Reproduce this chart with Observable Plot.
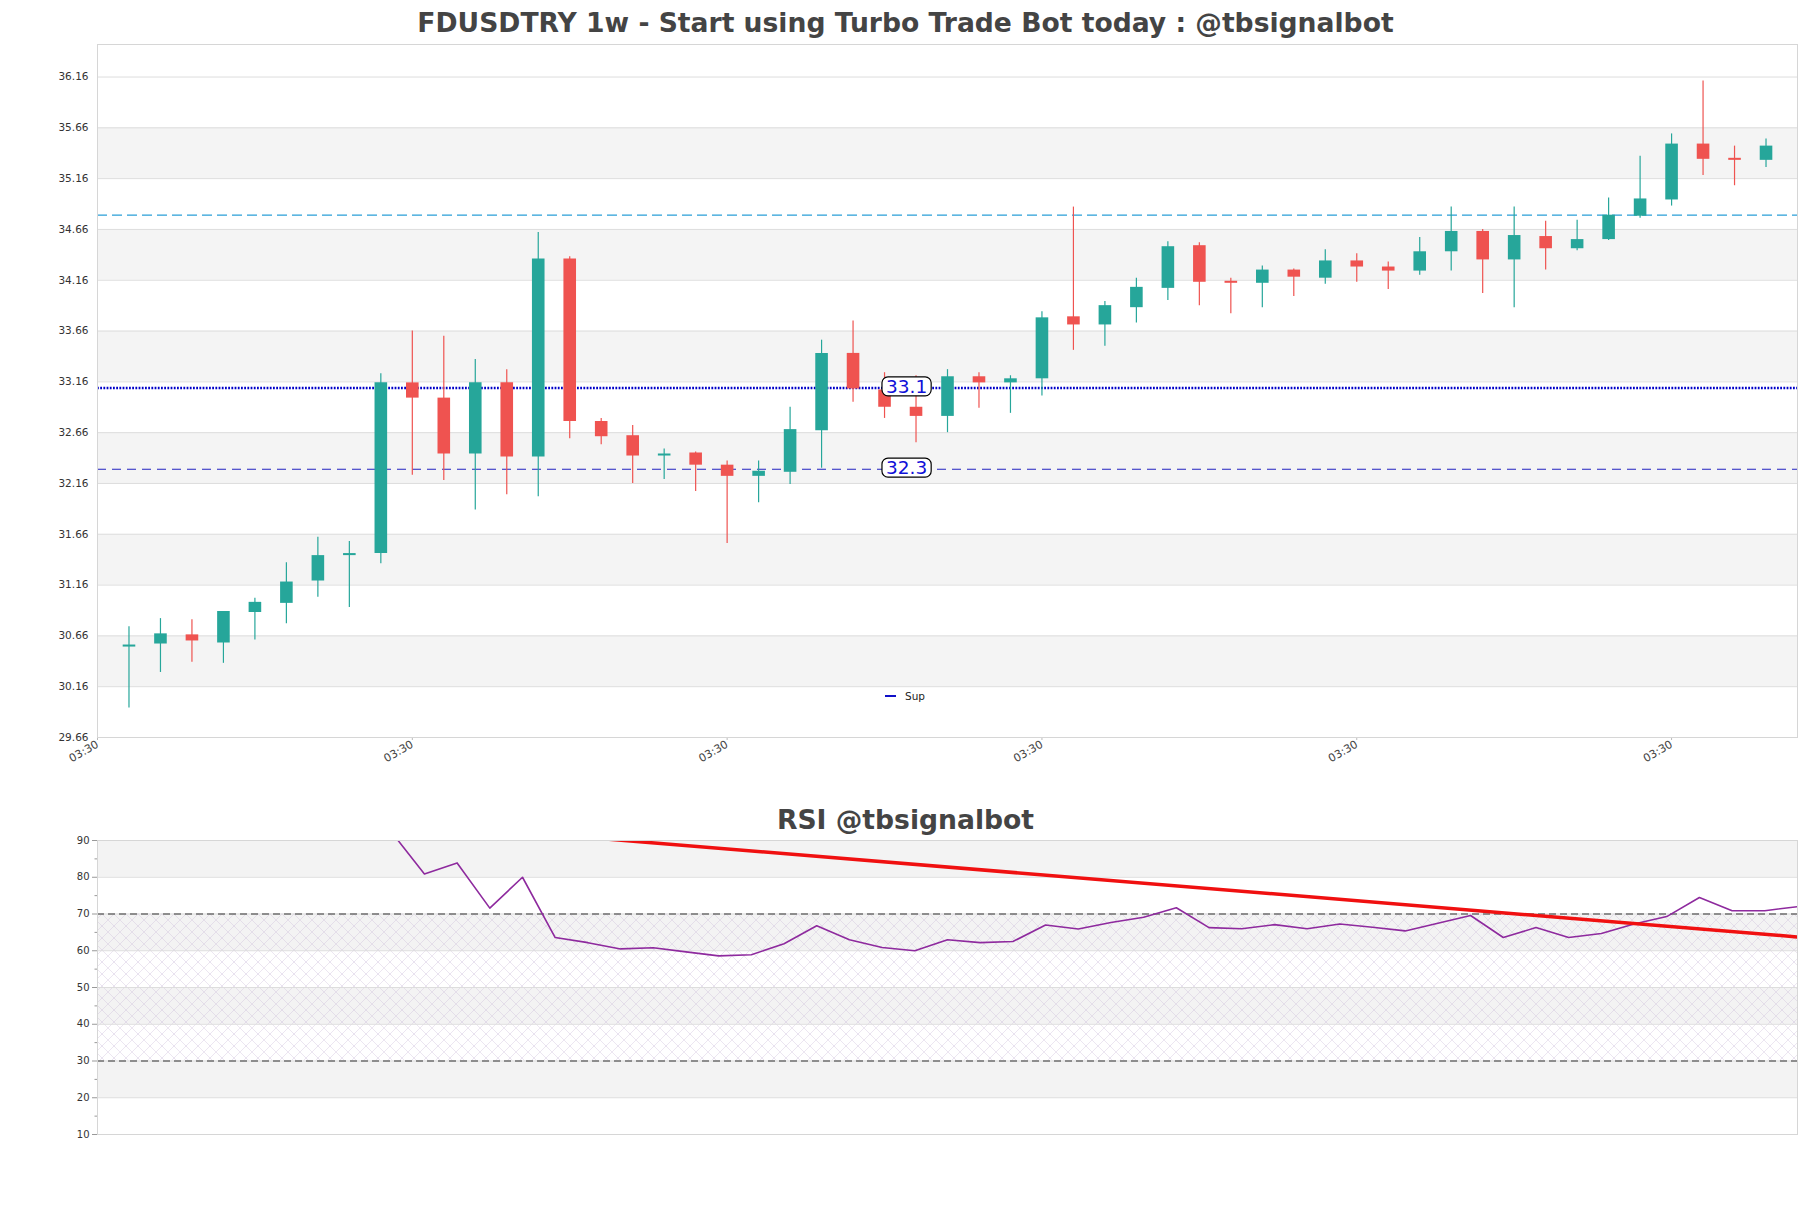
<!DOCTYPE html>
<html><head><meta charset="utf-8">
<script src="https://cdn.jsdelivr.net/npm/d3@7"></script>
<script src="https://cdn.jsdelivr.net/npm/@observablehq/plot@0.6"></script>
<style>
html,body{margin:0;padding:0;background:#fff;width:1811px;height:1208px;overflow:hidden;font-family:"DejaVu Sans",sans-serif;}
.title{position:absolute;left:0;width:1811px;text-align:center;font-weight:bold;font-size:26.6px;color:#444;line-height:30px;}
#main{position:absolute;left:0;top:40px;}
#rsi{position:absolute;left:0;top:836px;}
#legend{position:absolute;left:885px;top:690px;font-size:10.5px;color:#222;display:flex;align-items:center;}
#legend span.sw{display:inline-block;width:11px;height:2px;background:#1010c8;margin-right:9px;}
</style></head><body>
<div class="title" style="top:8px">FDUSDTRY 1w - Start using Turbo Trade Bot today : @tbsignalbot</div>
<div id="main"></div>
<div id="legend"><span class="sw"></span>Sup</div>
<div class="title" style="top:805px">RSI @tbsignalbot</div>
<div id="rsi"></div>
<script>
// ---------- data ----------
const opens  = [30.55,30.58,30.67,30.59,30.89,30.98,31.20,31.45,31.47,33.15,33.00,32.45,33.15,32.42,34.37,32.77,32.63,32.43,32.46,32.34,32.23,32.27,32.68,33.44,33.08,32.91,32.82,33.21,33.15,33.19,33.80,33.72,33.89,34.08,34.50,34.15,34.13,34.26,34.18,34.35,34.29,34.25,34.44,34.64,34.36,34.59,34.47,34.56,34.79,34.95,35.50,35.36,35.34];
const highs  = [30.75,30.83,30.82,30.90,31.03,31.38,31.63,31.59,33.24,33.66,33.61,33.38,33.28,34.63,34.39,32.80,32.73,32.50,32.47,32.38,32.38,32.91,33.57,33.76,33.25,33.22,33.28,33.25,33.22,33.85,34.88,33.95,34.18,34.54,34.53,34.18,34.30,34.27,34.46,34.42,34.34,34.58,34.88,34.66,34.88,34.74,34.75,34.97,35.38,35.60,36.12,35.48,35.55];
const lows   = [29.95,30.30,30.40,30.39,30.62,30.78,31.04,30.94,31.37,32.24,32.19,31.90,32.05,32.03,32.60,32.54,32.16,32.20,32.08,31.57,31.97,32.15,32.31,32.96,32.80,32.56,32.66,32.90,32.85,33.02,33.47,33.51,33.74,33.96,33.91,33.83,33.89,34.00,34.12,34.14,34.07,34.21,34.25,34.03,33.89,34.26,34.45,34.55,34.77,34.89,35.19,35.09,35.27];
const closes = [30.57,30.68,30.61,30.90,30.99,31.19,31.45,31.47,33.15,33.00,32.45,33.15,32.42,34.37,32.77,32.62,32.43,32.45,32.34,32.23,32.28,32.69,33.44,33.09,32.91,32.82,33.21,33.15,33.19,33.79,33.72,33.91,34.09,34.49,34.14,34.13,34.26,34.19,34.35,34.29,34.25,34.44,34.64,34.36,34.60,34.47,34.56,34.80,34.96,35.50,35.35,35.34,35.48];

const priceTicks = [29.66,30.16,30.66,31.16,31.66,32.16,32.66,33.16,33.66,34.16,34.66,35.16,35.66,36.16];
const priceBandLows  = [30.16,31.16,32.16,33.16,34.16,35.16];
const priceBandHighs = [30.66,31.66,32.66,33.66,34.66,35.66];

const xTickIndex  = [-1,9,19,29,39,49];
const xTickLabels = ["03:30","03:30","03:30","03:30","03:30","03:30"];

const resistanceLevel = [34.80];
const pivotLevel      = [33.10];
const supportLevel    = [32.30];
const levelLabelValues = [33.1, 32.3];
const levelLabelIndex  = 24.7;

const rsi = [null,null,null,null,null,null,null,null,null,
  92.2,80.9,83.9,71.6,80.0,63.6,62.2,60.5,60.8,59.7,58.6,58.9,61.9,66.8,63.0,60.9,60.0,
  63.0,62.2,62.5,67.0,65.9,67.7,69.1,71.7,66.3,66.0,67.1,66.0,67.3,66.4,65.4,67.5,69.6,
  63.6,66.3,63.6,64.7,67.3,69.3,74.5,70.9,70.9,72.0];
const rsiTrendIndex = [9, 52];
const rsiTrendValue = [95.2, 63.75];
const rsiTicks = [10,20,30,40,50,60,70,80,90];
const rsiMinorTicks = [15,25,35,45,55,65,75,85];
const rsiBandLows  = [20,40,60,80];
const rsiBandHighs = [30,50,70,90];
const rsiZone = [[30,70]];
const rsiLevels = [30,70];

// ---------- tables ----------
const UP = "#26a69a", DOWN = "#ef5350";
const candles = opens.map((o,i)=>({i, open:o, high:highs[i], low:lows[i], close:closes[i], col: closes[i]>=o?UP:DOWN}));
const priceBands = priceBandLows.map((lo,i)=>({lo, hi:priceBandHighs[i]}));
const rsiBands = rsiBandLows.map((lo,i)=>({lo, hi:rsiBandHighs[i]}));
const rsiPts = rsi.map((v,i)=>({i, v}));
const trend = rsiTrendIndex.map((x,k)=>({x, y:rsiTrendValue[k]}));
const lvlLabels = levelLabelValues.map(v=>({x:levelLabelIndex, y:v, t:String(v)}));

const FONT = "DejaVu Sans";

// ---------- main chart ----------
const main = Plot.plot({
  width: 1811, height: 737,
  marginTop: 4, marginBottom: 40, marginLeft: 97, marginRight: 14,
  style: {fontFamily: FONT, background: "transparent", color: "#333"},
  x: {domain: [-1, 53], axis: null},
  y: {domain: [29.66, 36.48], axis: null},
  color: {type: "identity"},
  marks: [
    Plot.rect(priceBands, {y1: "lo", y2: "hi", fill: "#f4f4f4"}),
    Plot.ruleY(priceTicks, {stroke: "#dddddd", strokeWidth: 1}),
    Plot.axisY(priceTicks, {tickSize: 0, tickPadding: 9, tickFormat: d => d.toFixed(2), fontSize: 10.5, fill: "#333"}),
    Plot.axisX(xTickIndex, {tickFormat: (d,i) => xTickLabels[i], tickRotate: -30, tickSize: 3, tickPadding: 3, fontSize: 11, stroke: "#bbb", fill: "#444"}),
    Plot.ruleY(resistanceLevel, {stroke: "#2a9fd8", strokeWidth: 1.2, strokeDasharray: "10,5"}),
    Plot.ruleY(supportLevel, {stroke: "#2222c0", strokeWidth: 1.2, strokeDasharray: "9,6"}),
    Plot.ruleY(pivotLevel, {stroke: "#0000c8", strokeWidth: 2.4, strokeDasharray: "1.8,1.4"}),
    Plot.ruleX(candles, {x: "i", y1: "low", y2: "high", stroke: "col", strokeWidth: 1.2}),
    Plot.ruleX(candles, {x: "i", y1: "open", y2: "close", stroke: "col", strokeWidth: 12.6}),
    Plot.text(lvlLabels, {x: "x", y: "y", text: "t", fill: "#1010d8", fontSize: 18.5, dy: -1}),
    Plot.frame({stroke: "#d6d6d6"})
  ]
});
document.getElementById("main").appendChild(main);

// rounded boxes behind level labels
const NS = "http://www.w3.org/2000/svg";
main.querySelectorAll('g[aria-label="text"] text').forEach(t => {
  const b = t.getBBox();
  const r = document.createElementNS(NS, "rect");
  r.setAttribute("x", b.x - 4);
  r.setAttribute("y", b.y + 1);
  r.setAttribute("width", b.width + 8);
  r.setAttribute("height", b.height - 2);
  r.setAttribute("rx", 6);
  r.setAttribute("fill", "#fff");
  r.setAttribute("stroke", "#000");
  r.setAttribute("stroke-width", 1.2);
  const tr = t.getAttribute("transform");
  if (tr) r.setAttribute("transform", tr);
  t.parentNode.insertBefore(r, t);
});

// ---------- RSI chart ----------
const rsiPlot = Plot.plot({
  width: 1811, height: 314,
  marginTop: 4, marginBottom: 16, marginLeft: 97, marginRight: 14,
  style: {fontFamily: FONT, background: "transparent", color: "#333"},
  x: {domain: [0, 52], axis: null},
  y: {domain: [10, 90], axis: null},
  marks: [
    Plot.rect(rsiBands, {y1: "lo", y2: "hi", fill: "#f3f3f3"}),
    Plot.rect(rsiZone, {y1: d => d[0], y2: d => d[1], fill: "url(#rsiHatch)"}),
    Plot.ruleY(rsiTicks, {stroke: "#dddddd"}),
    Plot.ruleY(rsiLevels, {stroke: "#333", strokeWidth: 1.2, strokeDasharray: "7,4"}),
    Plot.axisY(rsiTicks, {tickSize: 5, tickPadding: 3, fontSize: 10, stroke: "#999", fill: "#333"}),
    Plot.axisY(rsiMinorTicks, {tickSize: 2.5, tickFormat: () => "", stroke: "#999"}),
    Plot.line(rsiPts, {x: "i", y: "v", stroke: "#8e2a9e", strokeWidth: 1.6, clip: true}),
    Plot.line(trend, {x: "x", y: "y", stroke: "#f01010", strokeWidth: 3.5, clip: true}),
    Plot.frame({stroke: "#d6d6d6"})
  ]
});
const defs = document.createElementNS(NS, "defs");
defs.innerHTML = '<pattern id="rsiHatch" patternUnits="userSpaceOnUse" width="12" height="12">' +
  '<path d="M0,0L12,12M12,0L0,12" stroke="#c9b8d9" stroke-width="0.6" fill="none" opacity="0.6"/>' +
  '<circle cx="6" cy="6" r="0.5" fill="#c9b8d9" opacity="0.5"/></pattern>';
rsiPlot.insertBefore(defs, rsiPlot.firstChild);
document.getElementById("rsi").appendChild(rsiPlot);
</script>
</body></html>
